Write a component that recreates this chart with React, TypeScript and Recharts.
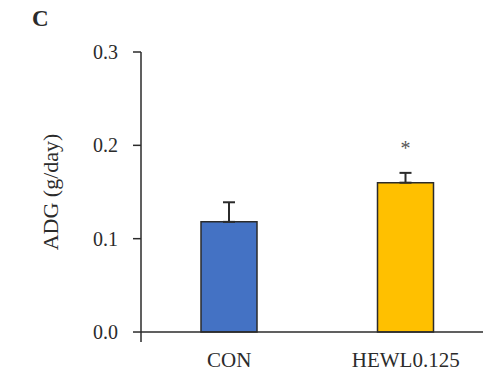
import React from 'react';
import {
  BarChart,
  Bar,
  XAxis,
  YAxis,
  ErrorBar,
  Cell,
  LabelList,
  ReferenceLine,
} from 'recharts';

const groups = ['CON', 'HEWL0.125'];
const adg = [0.118, 0.16];
const sem = [0.021, 0.0105];
const marks = ['', '*'];
const fills = ['#4472C4', '#FFC000'];
const yTicks = [0, 0.1, 0.2, 0.3];

const data = groups.map((name, i) => ({
  name,
  adg: adg[i],
  err: [0, sem[i]],
  mark: marks[i],
}));

const FONT = '"Liberation Serif", "Times New Roman", serif';
const INK = '#2b2b2b';

const YLabel = (props: any) => {
  const { viewBox } = props;
  const cx = 50;
  const cy = viewBox.y + 140;
  return (
    <text
      x={cx}
      y={cy}
      transform={`rotate(-90, ${cx}, ${cy})`}
      textAnchor="middle"
      dominantBaseline="central"
      fontFamily={FONT}
      fontSize={22}
      fill={INK}
    >
      ADG (g/day)
    </text>
  );
};

export default function App() {
  return (
    <div
      style={{
        position: 'absolute',
        left: 0,
        top: 0,
        width: 483,
        height: 372,
        overflow: 'hidden',
        background: '#fff',
      }}
    >
      <div
        style={{
          position: 'absolute',
          left: 32,
          top: 6,
          fontFamily: FONT,
          fontWeight: 'bold',
          fontSize: 23,
          lineHeight: 'normal',
          color: INK,
        }}
      >
        C
      </div>
      <BarChart
        width={500}
        height={372}
        data={data}
        margin={{ top: 52, right: 6, bottom: 0, left: 0 }}
      >
        <XAxis
          dataKey="name"
          height={30}
          axisLine={false}
          tickLine={false}
          tickMargin={4}
          tick={{ fontFamily: FONT, fontSize: 21, fill: INK }}
        />
        <XAxis xAxisId="n" type="number" domain={[0, 2]} hide />
        <YAxis
          width={141}
          domain={[-0.0107, 0.3]}
          ticks={yTicks}
          allowDataOverflow
          tickSize={8}
          tickMargin={15}
          stroke={INK}
          strokeWidth={1.5}
          tickFormatter={(v: number) => v.toFixed(1)}
          tick={{ fontFamily: FONT, fontSize: 20, fill: INK }}
          label={<YLabel />}
        />
        <ReferenceLine y={0} stroke={INK} strokeWidth={1.5} ifOverflow="extendDomain" />
        <ReferenceLine
          xAxisId="n"
          segment={[
            { x: 1, y: 0 },
            { x: 1, y: -0.0085 },
          ]}
          stroke={INK}
          strokeWidth={1.5}
        />
        <Bar dataKey="adg" barSize={56} stroke={INK} strokeWidth={1.5} isAnimationActive={false}>
          {data.map((d, i) => (
            <Cell key={d.name} fill={fills[i]} />
          ))}
          <ErrorBar dataKey="err" direction="y" width={6} stroke={INK} strokeWidth={2} />
          <LabelList
            dataKey="mark"
            position="top"
            offset={28}
            style={{ fontFamily: FONT, fontSize: 20, fill: '#555' }}
          />
        </Bar>
      </BarChart>
    </div>
  );
}
